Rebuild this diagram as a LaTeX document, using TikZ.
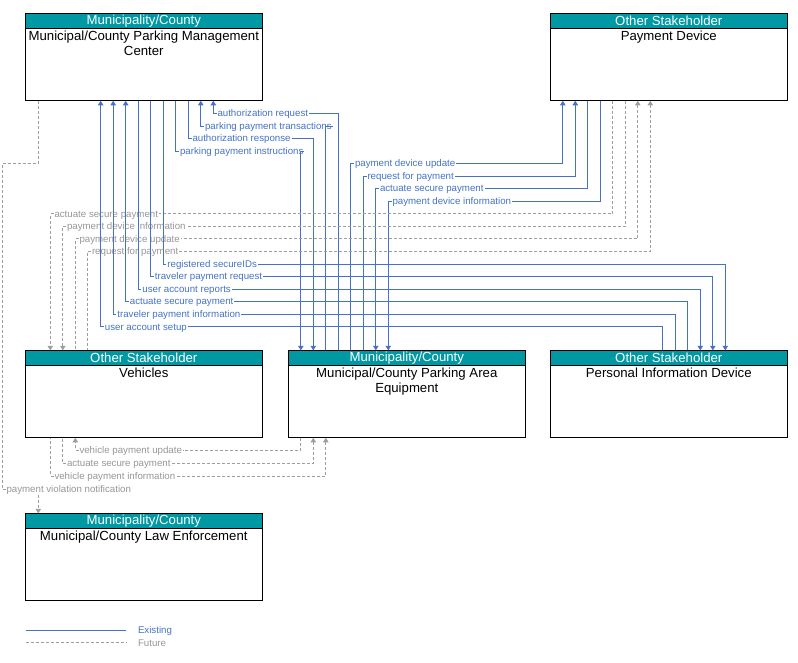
\documentclass[tikz,border=0pt]{standalone}
\usepackage{fontspec}
\setmainfont{Liberation Sans}
\usetikzlibrary{arrows.meta,positioning}

\definecolor{headteal}{RGB}{0,152,163}
\definecolor{flowblue}{RGB}{68,114,196}
\definecolor{flowgray}{RGB}{158,158,158}
\definecolor{labelgray}{RGB}{150,150,150}

\begin{document}
\begin{tikzpicture}
  [x=1pt,y=-1pt,>={Triangle[length=4.5pt,width=5.5pt]},%以像素为单位设置坐标,y轴向下,并设置箭头样式。
   box/.style={rectangle,draw=black,line width=0.9pt,minimum width=237pt,minimum height=87.5pt,inner sep=0pt,outer sep=0pt,anchor=north west},%定义了名为box的样式,用于绘制系统方框。
   head/.style={rectangle,draw=black,line width=0.9pt,fill=headteal,text=white,minimum width=237pt,minimum height=14.7pt,inner sep=0pt,outer sep=0pt,anchor=north,font=\fontsize{13.2}{14}\selectfont},%方框顶部的青色标题栏。
   body/.style={anchor=north,align=center,inner sep=2.6pt,font=\fontsize{13.2}{15.5}\selectfont},%方框内的名称文字。
   existing/.style={draw=flowblue,line width=0.8pt},%现有的信息流,蓝色实线。
   future/.style={draw=flowgray,line width=0.8pt,dash pattern=on 3pt off 2pt},%未来的信息流,灰色虚线。
   flow label/.style={anchor=west,inner sep=0.8pt,text height=8pt,text depth=1.4pt,text=flowblue,font=\fontsize{9.7}{10}\selectfont},%信息流的标签。
   future label/.style={flow label,text=labelgray}]%未来信息流的标签,灰色。

  \useasboundingbox (0,0) rectangle (798,662);

  % 六个系统方框
  \node [box] (mc)  at (25.3,13.3)          {};
  \node [head] (mch) at (mc.north)          {Municipality/County};
  \node [body]       at (mch.south)         {Municipal/County Parking Management\\Center};

  \node [box] (pd)  at (550.3,13.3)         {};
  \node [head] (pdh) at (pd.north)          {Other Stakeholder};
  \node [body]       at (pdh.south)         {Payment Device};

  \node [box] (veh) at (25.3,350.3)         {};
  \node [head] (vehh) at (veh.north)        {Other Stakeholder};
  \node [body]        at (vehh.south)       {Vehicles};

  \node [box] (pae) [right=26pt of veh]     {};
  \node [head] (paeh) at (pae.north)        {Municipality/County};
  \node [body]        at (paeh.south)       {Municipal/County Parking Area\\Equipment};

  \node [box] (pid) [right=25pt of pae]     {};
  \node [head] (pidh) at (pid.north)        {Other Stakeholder};
  \node [body]        at (pidh.south)       {Personal Information Device};

  \node [box] (le)  [below=75.5pt of veh]   {};
  \node [head] (leh) at (le.north)          {Municipality/County};
  \node [body]       at (leh.south)         {Municipal/County Law Enforcement};

  % 信息流的标签,放在折线的水平段上
  \node [flow label] (arq)  at (216.5,113.3) {authorization request};
  \node [flow label] (ppt)  at (204,125.9)   {parking payment transactions};
  \node [flow label] (ars)  at (191.5,138.4) {authorization response};
  \node [flow label] (ppi)  at (179,151)     {parking payment instructions};
  \node [flow label] (pdu)  at (354,163.5)   {payment device update};
  \node [flow label] (rfp)  at (366.5,176.1) {request for payment};
  \node [flow label] (asp2) at (379,188.6)   {actuate secure payment};
  \node [flow label] (pdi)  at (391.5,201.2) {payment device information};
  \node [future label] (asp3) at (53.5,213.7) {actuate secure payment};
  \node [future label] (pdi2) at (66,226.3)   {payment device information};
  \node [future label] (pdu2) at (78.5,238.8) {payment device update};
  \node [future label] (rfp2) at (91,251.4)   {request for payment};
  \node [flow label] (rsi)  at (166.4,263.9) {registered secureIDs};
  \node [flow label] (tpr)  at (153.9,276.5) {traveler payment request};
  \node [flow label] (uar)  at (141.4,289)   {user account reports};
  \node [flow label] (asp1) at (128.9,301.6) {actuate secure payment};
  \node [flow label] (tpi)  at (116.4,314.1) {traveler payment information};
  \node [flow label] (uas)  at (103.9,326.7) {user account setup};
  \node [future label] (vpu)  at (78.5,450)   {vehicle payment update};
  \node [future label] (asp4) at (66,463.3)   {actuate secure payment};
  \node [future label] (vpi)  at (53.5,476)   {vehicle payment information};
  \node [future label] (pvn)  at (5.5,489)    {payment violation notification};

  % 停车管理中心与停车区域设备之间的信息流
  \draw [existing,<-] ([xshift=188pt]mc.south west) |- (arq);
  \draw [existing]    (arq) -| ([xshift=50pt]pae.north west);
  \draw [existing,<-] ([xshift=175.5pt]mc.south west) |- (ppt);
  \draw [existing]    (ppt) -| ([xshift=37.5pt]pae.north west);
  \draw [existing]    ([xshift=163pt]mc.south west) |- (ars);
  \draw [existing,->] (ars) -| ([xshift=25pt]pae.north west);
  \draw [existing]    ([xshift=150.5pt]mc.south west) |- (ppi);
  \draw [existing,->] (ppi) -| ([xshift=12.5pt]pae.north west);

  % 支付设备与停车区域设备之间的信息流
  \draw [existing,<-] ([xshift=12.5pt]pd.south west) |- (pdu);
  \draw [existing]    (pdu) -| ([xshift=62.5pt]pae.north west);
  \draw [existing,<-] ([xshift=25pt]pd.south west) |- (rfp);
  \draw [existing]    (rfp) -| ([xshift=75pt]pae.north west);
  \draw [existing]    ([xshift=37.5pt]pd.south west) |- (asp2);
  \draw [existing,->] (asp2) -| ([xshift=87.5pt]pae.north west);
  \draw [existing]    ([xshift=50pt]pd.south west) |- (pdi);
  \draw [existing,->] (pdi) -| ([xshift=100pt]pae.north west);

  % 支付设备与车辆之间的信息流(未来)
  \draw [future]    ([xshift=62.5pt]pd.south west) |- (asp3);
  \draw [future,->] (asp3) -| ([xshift=25pt]veh.north west);
  \draw [future]    ([xshift=75pt]pd.south west) |- (pdi2);
  \draw [future,->] (pdi2) -| ([xshift=37.5pt]veh.north west);
  \draw [future,<-] ([xshift=87.5pt]pd.south west) |- (pdu2);
  \draw [future]    (pdu2) -| ([xshift=50pt]veh.north west);
  \draw [future,<-] ([xshift=100pt]pd.south west) |- (rfp2);
  \draw [future]    (rfp2) -| ([xshift=62.5pt]veh.north west);

  % 停车管理中心与个人信息设备之间的信息流
  \draw [existing]    ([xshift=137.9pt]mc.south west) |- (rsi);
  \draw [existing,->] (rsi) -| ([xshift=175pt]pid.north west);
  \draw [existing]    ([xshift=125.4pt]mc.south west) |- (tpr);
  \draw [existing,->] (tpr) -| ([xshift=162.5pt]pid.north west);
  \draw [existing]    ([xshift=112.9pt]mc.south west) |- (uar);
  \draw [existing,->] (uar) -| ([xshift=150pt]pid.north west);
  \draw [existing,<-] ([xshift=100.4pt]mc.south west) |- (asp1);
  \draw [existing]    (asp1) -| ([xshift=137.5pt]pid.north west);
  \draw [existing,<-] ([xshift=87.9pt]mc.south west) |- (tpi);
  \draw [existing]    (tpi) -| ([xshift=125pt]pid.north west);
  \draw [existing,<-] ([xshift=75.4pt]mc.south west) |- (uas);
  \draw [existing]    (uas) -| ([xshift=112.5pt]pid.north west);

  % 停车区域设备与车辆之间的信息流(未来)
  \draw [future]    ([xshift=12.5pt]pae.south west) |- (vpu);
  \draw [future,->] (vpu) -| ([xshift=50pt]veh.south west);
  \draw [future,<-] ([xshift=25pt]pae.south west) |- (asp4);
  \draw [future]    (asp4) -| ([xshift=37.5pt]veh.south west);
  \draw [future,<-] ([xshift=37.5pt]pae.south west) |- (vpi);
  \draw [future]    (vpi) -| ([xshift=25pt]veh.south west);

  % 停车管理中心到执法部门的违规通知,绕过左侧
  \coordinate (pvnc) at (2.5,163);
  \coordinate (lein) at ([xshift=13pt]le.north west);
  \draw [future] ([xshift=13pt]mc.south west) |- (pvnc) |- (pvn);
  \draw [future,->] (lein |- pvn.south) -- (lein);

  % 图例
  \coordinate (ex1) at (25.5,630.3);
  \coordinate (ex2) at (125.7,630.3);
  \coordinate (fu1) at (25.5,642.3);
  \coordinate (fu2) at (125.7,642.3);
  \draw [existing] (ex1) -- (ex2);
  \draw [future] (fu1) -- (fu2);
  \node [flow label] (lgex) at (137,630.3) {Existing};
  \node [future label] (lgfu) at (137,642.8) {Future};

\end{tikzpicture}
\end{document}
